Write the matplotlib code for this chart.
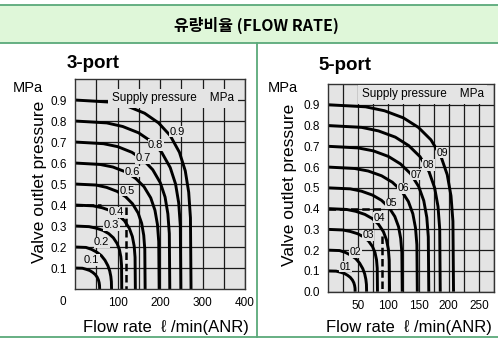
import matplotlib
matplotlib.use("Agg")
import matplotlib.pyplot as plt
from matplotlib.lines import Line2D
from matplotlib.patches import Rectangle

plt.rcParams["font.family"] = ["Liberation Sans", "DejaVu Sans"]

# supply pressure of each curve (MPa)
supply_mpa = [0.1, 0.2, 0.3, 0.4, 0.5, 0.6, 0.7, 0.8, 0.9]

# points: flow (l/min ANR) and outlet pressure (MPa)
flow_3port = [
    [0, 17.4, 26.1, 34.8, 41.8, 47.6, 52.2, 55.1, 56.8, 57.7, 58],
    [0, 25.8, 38.7, 51.6, 61.9, 70.5, 77.4, 81.7, 84.3, 85.6, 86],
    [0, 33.0, 49.5, 66.0, 79.2, 90.2, 99.0, 104.5, 107.8, 109.5, 110],
    [0, 42.6, 63.9, 85.2, 102.2, 116.4, 127.8, 134.9, 139.2, 141.3, 142],
    [0, 49.5, 74.3, 99.0, 118.8, 135.3, 148.5, 156.8, 161.7, 164.2, 165],
    [0, 59.4, 89.1, 118.8, 142.6, 162.4, 178.2, 188.1, 194.0, 197.0, 198],
    [0, 66.9, 100.4, 133.8, 160.6, 182.9, 200.7, 211.9, 218.5, 221.9, 223],
    [0, 74.7, 112.1, 149.4, 179.3, 204.2, 224.1, 236.6, 244.0, 247.8, 249],
    [0, 81.9, 122.9, 163.8, 196.6, 223.9, 245.7, 259.4, 267.5, 271.6, 273],
]
flow_5port = [
    [0, 13.5, 20.3, 27.0, 32.4, 36.9, 40.5, 42.8, 44.1, 44.8, 45],
    [0, 19.2, 28.8, 38.4, 46.1, 52.5, 57.6, 60.8, 62.7, 63.7, 64],
    [0, 24.6, 36.9, 49.2, 59.0, 67.2, 73.8, 77.9, 80.4, 81.6, 82],
    [0, 30.6, 45.9, 61.2, 73.4, 83.6, 91.8, 96.9, 100.0, 101.5, 102],
    [0, 36.9, 55.4, 73.8, 88.6, 100.9, 110.7, 116.9, 120.5, 122.4, 123],
    [0, 44.4, 66.6, 88.8, 106.6, 121.4, 133.2, 140.6, 145.0, 147.3, 148],
    [0, 50.1, 75.2, 100.2, 120.2, 136.9, 150.3, 158.7, 163.7, 166.2, 167],
    [0, 55.8, 83.7, 111.6, 133.9, 152.5, 167.4, 176.7, 182.3, 185.1, 186],
    [0, 62.4, 93.6, 124.8, 149.8, 170.6, 187.2, 197.6, 203.8, 207.0, 208],
]
outlet_mpa = [
    [0.100, 0.099, 0.094, 0.088, 0.079, 0.069, 0.056, 0.043, 0.030, 0.017, 0],
    [0.200, 0.198, 0.189, 0.175, 0.159, 0.137, 0.111, 0.086, 0.060, 0.035, 0],
    [0.300, 0.297, 0.290, 0.279, 0.264, 0.244, 0.217, 0.188, 0.154, 0.113, 0],
    [0.400, 0.396, 0.387, 0.372, 0.352, 0.325, 0.289, 0.250, 0.205, 0.151, 0],
    [0.500, 0.495, 0.484, 0.465, 0.440, 0.406, 0.362, 0.313, 0.256, 0.189, 0],
    [0.600, 0.593, 0.581, 0.558, 0.527, 0.487, 0.434, 0.375, 0.307, 0.226, 0],
    [0.700, 0.692, 0.678, 0.651, 0.615, 0.568, 0.506, 0.438, 0.358, 0.264, 0],
    [0.800, 0.791, 0.774, 0.744, 0.703, 0.650, 0.578, 0.500, 0.410, 0.302, 0],
    [0.900, 0.890, 0.871, 0.837, 0.791, 0.731, 0.651, 0.563, 0.461, 0.339, 0],
]

labels_3port = ["0.1", "0.2", "0.3", "0.4", "0.5", "0.6", "0.7", "0.8", "0.9"]
labels_5port = ["01", "02", "03", "04", "05", "06", "07", "08", "09"]

# example reading (dashed): outlet 0.4 MPa -> flow
example_outlet = 0.4
example_flow_3port = 121
example_flow_5port = 89

BG = "#e4e4e4"
GREEN = "#5aa97a"
DASH = (0, (3, 1.5))

fig = plt.figure(figsize=(4.98, 3.47), dpi=100)

# header band and frame lines
fig.patches.append(Rectangle((0, 0.8761), 1, 0.1095, transform=fig.transFigure,
                             facecolor="#dff7d9", edgecolor="none", zorder=0))
for y in (0.9856, 0.8761, 0.0297):
    fig.add_artist(Line2D([0, 1], [y, y], color=GREEN, lw=1.3))
fig.add_artist(Line2D([0.5155, 0.5155], [0.0297, 0.8761], color=GREEN, lw=1.3))
fig.text(0.515, 0.928, "유량비율 (FLOW RATE)", ha="center", va="center",
         fontsize=11.5, fontweight="bold",
         family=["Noto Sans CJK KR", "DejaVu Sans"])


def draw_panel(rect, flows, xmax, major, minor, yticks, labels, label_pos,
               ex_flow, hline_end, dash_from, box_x, box_y, label_size):
    ax = fig.add_axes(rect)
    ax.set_facecolor(BG)
    ax.set_xlim(0, xmax)
    ax.set_ylim(0, 1.0)
    ax.set_xticks(major)
    ax.set_xticks(minor, minor=True)
    ax.set_yticks(yticks)
    ax.set_yticklabels([f"{v:.1f}" for v in yticks])
    ax.set_xticklabels([str(v) for v in major])
    ax.tick_params(which="both", length=0, labelsize=8.5, pad=6)
    ax.grid(which="both", color="#1a1a1a", lw=0.9)
    ax.set_axisbelow(True)
    for sp in ax.spines.values():
        sp.set_linewidth(1.0)
        sp.set_color("#333333")

    for xs, ys in zip(flows, outlet_mpa):
        ax.plot(xs, ys, color="black", lw=2.1, solid_capstyle="butt", zorder=2)

    ax.plot([0, hline_end], [example_outlet, example_outlet], color="black",
            lw=1.8, ls=DASH, zorder=2)
    ax.plot([ex_flow, ex_flow], [dash_from, 0], color="black", lw=1.8, ls=DASH,
            zorder=2)

    for lab, (lx, ly) in zip(labels, label_pos):
        ax.text(lx, ly, lab, fontsize=label_size, ha="center", va="center", zorder=4,
                bbox=dict(boxstyle="square,pad=0.05", fc=BG, ec="none"))

    ax.text(box_x, box_y, "Supply pressure    MPa", fontsize=8.5, ha="left",
            va="center", zorder=4,
            bbox=dict(boxstyle="square,pad=0.3", fc=BG, ec="none"))
    return ax


pos_3port = [(39, 0.138), (63, 0.222), (86, 0.305), (98, 0.365), (122, 0.468),
             (135, 0.559), (160, 0.622), (190, 0.686), (241, 0.748)]
pos_5port = [(28.7, 0.121), (45.3, 0.189), (66.3, 0.272), (85, 0.356), (104.9, 0.426),
             (125.4, 0.499), (146.3, 0.562), (166.8, 0.61), (188.9, 0.668)]

ax1 = draw_panel([0.1506, 0.1671, 0.3414, 0.6052], flow_3port, 400,
                 [100, 200, 300, 400], [50, 150, 250, 350],
                 supply_mpa, labels_3port, pos_3port, example_flow_3port, 62, 0.39,
                 87, 0.908, 8)
ax1.text(-0.07, -0.062, "0", transform=ax1.transAxes, ha="center", va="center",
         fontsize=8.5)

ax2 = draw_panel([0.6586, 0.1594, 0.3333, 0.5986], flow_5port, 275,
                 [50, 100, 150, 200, 250], [25, 75, 125, 175, 225, 275],
                 [0.0] + supply_mpa, labels_5port, pos_5port, example_flow_5port,
                 example_flow_5port, 0.27, 56, 0.95, 7.5)

# panel titles and axis labels
fig.text(0.1867, 0.8184, "3-port", ha="center", va="center", fontsize=13.5,
         fontweight="bold")
fig.text(0.6928, 0.8098, "5-port", ha="center", va="center", fontsize=13.5,
         fontweight="bold")
for x in (0.0562, 0.5683):
    fig.text(x, 0.7464, "MPa", ha="center", va="center", fontsize=10.5)
fig.text(0.0803, 0.4755, "Valve outlet pressure", rotation=90, ha="center",
         va="center", fontsize=12.5)
fig.text(0.5823, 0.4669, "Valve outlet pressure", rotation=90, ha="center",
         va="center", fontsize=12.5)
fig.text(0.3323, 0.0576, "Flow rate  ℓ /min(ANR)", ha="center", va="center",
         fontsize=12)
fig.text(0.8213, 0.0548, "Flow rate  ℓ /min(ANR)", ha="center", va="center",
         fontsize=12)

fig.savefig("out.png", dpi=100)
